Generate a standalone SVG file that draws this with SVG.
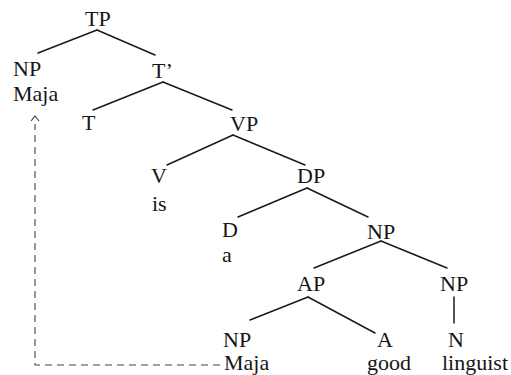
<svg xmlns="http://www.w3.org/2000/svg" width="511" height="375" viewBox="0 0 511 375">
  <style>
    .edge { stroke: #1a1a1a; stroke-width: 1.5; fill: none; stroke-linecap: round; }
    .move { stroke: #444; stroke-width: 1.1; fill: none; stroke-dasharray: 7 5; }
    .head { stroke: #444; stroke-width: 1.1; fill: none; }
  </style>
  <rect width="511" height="375" fill="#ffffff"/>

  <g id="connectors">
    <line class="edge" x1="97" y1="30" x2="38" y2="53"/>
    <line class="edge" x1="97" y1="30" x2="155" y2="55"/>
    <line class="edge" x1="163" y1="82" x2="93" y2="110"/>
    <line class="edge" x1="163" y1="82" x2="232" y2="110"/>
    <line class="edge" x1="233" y1="135" x2="167" y2="165"/>
    <line class="edge" x1="233" y1="135" x2="305" y2="165"/>
    <line class="edge" x1="307" y1="188" x2="238" y2="217"/>
    <line class="edge" x1="307" y1="188" x2="368" y2="217"/>
    <line class="edge" x1="381" y1="241" x2="314" y2="268"/>
    <line class="edge" x1="381" y1="241" x2="447" y2="268"/>
    <line class="edge" x1="308" y1="297" x2="250" y2="320"/>
    <line class="edge" x1="308" y1="297" x2="375" y2="333"/>
    <line class="edge" x1="454" y1="297" x2="454" y2="323"/>
    <!-- movement path back to the subject position -->
    <polyline class="move" points="220,365 35,365 35,124"/>
    <polyline class="head" points="31,121 35,116 39,121"/>
  </g>

  <g font-family="'Liberation Serif', 'Times New Roman', serif" font-size="22" fill="#161616">
    <g id="tp"><text x="85" y="26">TP</text></g>
    <g id="np-subject"><text x="13" y="76">NP</text><text x="13" y="101">Maja</text></g>
    <g id="t-bar"><text x="152" y="78">T’</text></g>
    <g id="t"><text x="82" y="130">T</text></g>
    <g id="vp"><text x="230" y="131">VP</text></g>
    <g id="v"><text x="151" y="183">V</text><text x="152" y="211">is</text></g>
    <g id="dp"><text x="297" y="183">DP</text></g>
    <g id="d"><text x="222" y="237">D</text><text x="222" y="262">a</text></g>
    <g id="np-upper"><text x="367" y="239">NP</text></g>
    <g id="ap"><text x="297" y="291">AP</text></g>
    <g id="np-right"><text x="440" y="291">NP</text></g>
    <g id="np-lower"><text x="223" y="347">NP</text><text x="224" y="370">Maja</text></g>
    <g id="a"><text x="377" y="347">A</text><text x="367" y="370">good</text></g>
    <g id="n"><text x="448" y="347">N</text><text x="442" y="370">linguist</text></g>
  </g>
</svg>
